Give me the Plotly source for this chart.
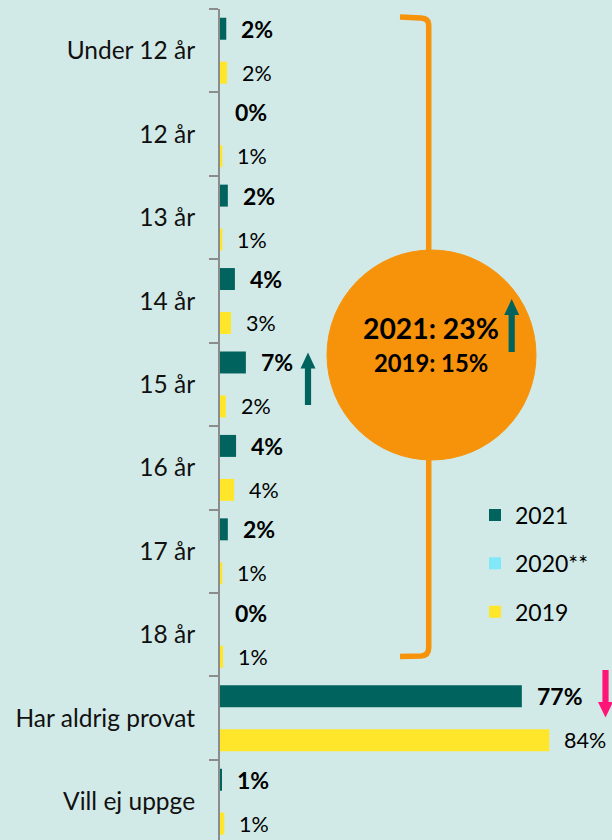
import plotly.graph_objects as go

categories = ["Under 12 år", "12 år", "13 år", "14 år", "15 år", "16 år",
              "17 år", "18 år", "Har aldrig provat", "Vill ej uppge"]
values_2021 = [1.6, 0.0, 2.0, 3.8, 6.6, 4.1, 2.0, 0.0, 77.0, 0.4]
labels_2021 = ["2%", "0%", "2%", "4%", "7%", "4%", "2%", "0%", "77%", "1%"]
values_2020 = [None] * 10
values_2019 = [1.8, 0.6, 0.6, 2.8, 1.5, 3.6, 0.6, 0.8, 84.0, 1.1]
labels_2019 = ["2%", "1%", "1%", "3%", "2%", "4%", "1%", "1%", "84%", "1%"]
circle_lines = ["2021: 23%", "2019: 15%"]

BG = "#D2EAE7"
TEAL = "#00635E"
YELLOW = "#FFE62B"
CYAN = "#80E8F8"
ORANGE = "#F7930A"
PINK = "#FF1478"
GRAY = "#8C8C8C"
FONT = "Lato"

W, H = 612, 840
ML, MT = 220, 9
PW, PH = W - ML, H - MT
BARGAP = 0.21
SLOT = (1 - BARGAP) / 3


def px(x):
    return (x - ML) / PW


def py(y):
    return (H - y) / PH


fig = go.Figure()
fig.add_trace(go.Bar(y=categories, x=values_2021, orientation="h", name="2021",
                     marker=dict(color=TEAL, line=dict(width=0)), legendgroup="a"))
fig.add_trace(go.Bar(y=categories, x=values_2020, orientation="h", name="2020**",
                     marker=dict(color=CYAN, line=dict(width=0)), legendgroup="b"))
fig.add_trace(go.Bar(y=categories, x=values_2019, orientation="h", name="2019",
                     marker=dict(color=YELLOW, line=dict(width=0)), legendgroup="c"))

annotations = []
for i, (v, t) in enumerate(zip(values_2021, labels_2021)):
    annotations.append(dict(x=v, y=i - SLOT, xref="x", yref="y", text="<b>%s</b>" % t,
                            showarrow=False, xanchor="left", yanchor="middle", xshift=13,
                            font=dict(family=FONT, size=23, color="#000000")))
for i, (v, t) in enumerate(zip(values_2019, labels_2019)):
    annotations.append(dict(x=v, y=i + SLOT, xref="x", yref="y", text=t,
                            showarrow=False, xanchor="left", yanchor="middle", xshift=13,
                            font=dict(family=FONT, size=21.5, color="#000000")))

annotations.append(dict(x=px(431), y=py(328), xref="paper", yref="paper",
                        text="<b>%s</b>" % circle_lines[0], showarrow=False,
                        xanchor="center", yanchor="middle",
                        font=dict(family=FONT, size=28.3, color="#000000")))
annotations.append(dict(x=px(431), y=py(362.5), xref="paper", yref="paper",
                        text="<b>%s</b>" % circle_lines[1], showarrow=False,
                        xanchor="center", yanchor="middle",
                        font=dict(family=FONT, size=23.8, color="#000000")))


def path(points, close=True):
    s = "M " + " L ".join("%.5f,%.5f" % (px(a), py(b)) for a, b in points)
    return s + (" Z" if close else "")


def up_arrow(cx, tip, base, bottom, hw=7.5, sw=3.1):
    return path([(cx - sw, bottom), (cx - sw, base), (cx - hw, base), (cx, tip),
                 (cx + hw, base), (cx + sw, base), (cx + sw, bottom)])


def down_arrow(cx, top, base, tip, hw=7.5, sw=3.1):
    return path([(cx - sw, top), (cx - sw, base), (cx - hw, base), (cx, tip),
                 (cx + hw, base), (cx + sw, base), (cx + sw, top)])


bx = 428.7
brace = ("M %.5f,%.5f L %.5f,%.5f Q %.5f,%.5f %.5f,%.5f L %.5f,%.5f "
         "Q %.5f,%.5f %.5f,%.5f L %.5f,%.5f") % (
    px(400), py(17.0), px(421), py(18.0), px(bx), py(18.5), px(bx), py(25),
    px(bx), py(648), px(bx), py(655.5), px(421), py(656), px(400), py(656.5))

shapes = [
    dict(type="path", path=brace, xref="paper", yref="paper",
         line=dict(color=ORANGE, width=5.5), fillcolor="rgba(0,0,0,0)", layer="above"),
    dict(type="circle", xref="paper", yref="paper", x0=px(327), x1=px(536),
         y0=py(460), y1=py(250), fillcolor=ORANGE, line=dict(color=ORANGE, width=1),
         layer="above"),
    dict(type="path", path=up_arrow(511.7, 299, 315, 352), xref="paper", yref="paper",
         fillcolor=TEAL, line=dict(width=0), layer="above"),
    dict(type="path", path=up_arrow(308, 352.5, 368.5, 405), xref="paper", yref="paper",
         fillcolor=TEAL, line=dict(width=0), layer="above"),
    dict(type="path", path=down_arrow(605.5, 670, 702, 717.5), xref="paper", yref="paper",
         fillcolor=PINK, line=dict(width=0), layer="above"),
]

fig.update_layout(
    width=W, height=H,
    margin=dict(l=ML, r=0, t=MT, b=0, pad=0),
    paper_bgcolor=BG, plot_bgcolor=BG,
    barmode="group", bargap=BARGAP, bargroupgap=0,
    font=dict(family=FONT, color="#000000"),
    showlegend=True,
    legend=dict(x=px(475), y=py(563.5), xanchor="left", yanchor="middle",
                bgcolor="rgba(0,0,0,0)", traceorder="grouped", tracegroupgap=15.5,
                font=dict(family=FONT, size=23, color="#000000")),
    xaxis=dict(range=[0, 100], visible=False, fixedrange=True),
    yaxis=dict(type="category", range=[9.46, -0.5], showline=True, linecolor=GRAY,
               linewidth=2, ticks="outside", tickson="boundaries", ticklen=9,
               tickwidth=2, tickcolor=GRAY, showgrid=False, zeroline=False,
               ticklabelstandoff=18,
               tickfont=dict(family=FONT, size=24.5, color="#111111")),
    annotations=annotations,
    shapes=shapes,
)

fig.write_html("out.html", config={"displayModeBar": False},
               post_script="document.body.style.margin='0';"
                           "document.body.style.background='%s';" % BG)
